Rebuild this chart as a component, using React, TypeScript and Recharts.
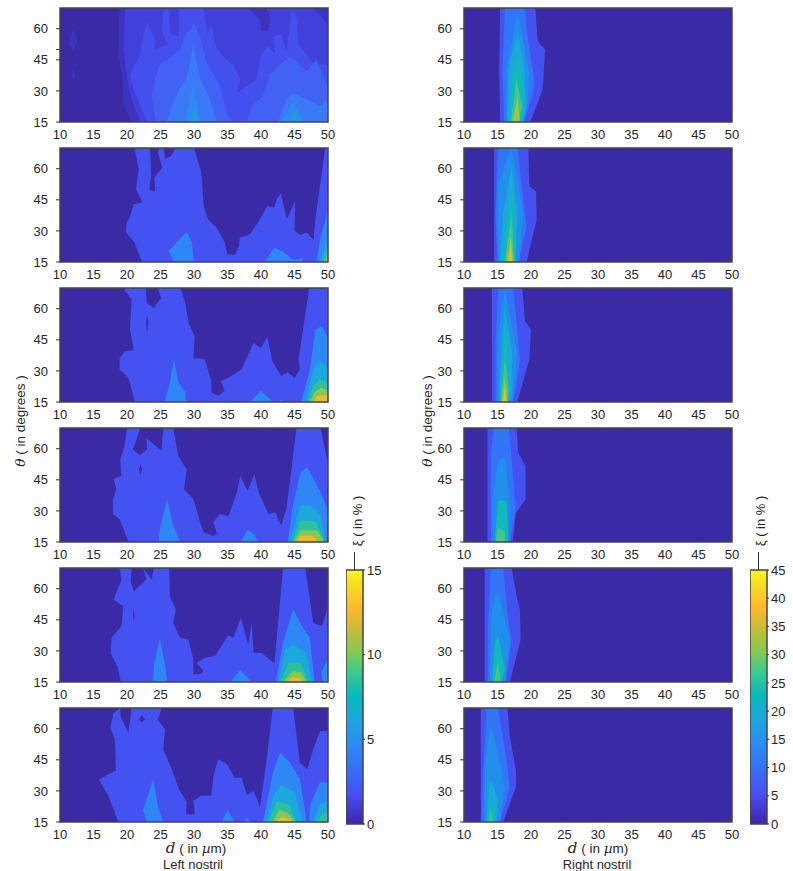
import { ComposedChart, Area, XAxis, YAxis, ReferenceArea, BarChart, Bar } from "recharts";

type Point = [number, number];
type Layer = [number, Point[]];

const dTicks = [10, 15, 20, 25, 30, 35, 40, 45, 50];
const thetaTicks = [15, 30, 45, 60];
const firstPanelTicks = [15, 30, 45, 50, 60];
const leftBarTicks = [0, 5, 10, 15];
const rightBarTicks = [0, 5, 10, 15, 20, 25, 30, 35, 40, 45];

const BASE = "#3B2AA5";
const topRamp = [BASE, "#3D33BE", "#4040DA", "#4450EE", "#4262F6", "#3A7AF6", "#2F8CF0", "#2598E8"];
const leftRamp = [BASE, "#4352F0", "#2F87F5", "#1CA8DB", "#2DC09A", "#87C852", "#EFB833"];
const rightRamp = [BASE, "#4352F0", "#3276F7", "#2190EB", "#1CA8DB", "#12B9B9", "#45C58B", "#9AC748", "#EFB833"];

// every contour is an outline of (d, theta), closed back to its first point
const left1: Layer[] = [
    [1, [[20.6, 15], [19.45, 24.3], [19.3, 37], [18.7, 46.7], [18.85, 70], [50, 70], [50, 15]]],
    [1, [[12, 60], [12.6, 54], [12, 49], [11.3, 53], [12, 60]]],
    [1, [[12, 41], [12.3, 38], [12, 35], [11.7, 38], [12, 41]]],
    [2, [[22, 15], [20.7, 26], [20, 35.6], [19.45, 50], [19.7, 70], [38.1, 70], [39.85, 64], [40, 59], [41.1, 59], [41.4, 65], [40.85, 70], [47.8, 70], [50, 62.2], [50, 15]]],
    [3, [[23, 15], [21.2, 29], [20.4, 37.9], [21.9, 46.7], [22.4, 55.5], [22.9, 63.5], [24.3, 54], [24, 50], [26.1, 52.3], [25.2, 59.5], [25.4, 69], [26.2, 70], [26.4, 58], [27.7, 56], [27.8, 70], [31.4, 70], [32, 58], [32.6, 62], [33.4, 50], [35.9, 42], [36.9, 35.6], [36.4, 29], [39.3, 35.6], [39.9, 46.7], [41, 51.5], [42.1, 48], [41.8, 56], [43, 57.5], [43.8, 49], [44.6, 69.3], [45.4, 64.5], [45.5, 53], [47.8, 43], [50, 42.7], [50, 15]]],
    [4, [[24.3, 15], [23.7, 27.5], [24.7, 42], [26.7, 46.7], [27.9, 50], [28.9, 58], [30.1, 62], [30.9, 56], [31.9, 43.5], [33.9, 32], [34.9, 19.5], [35.9, 15]]],
    [4, [[37.9, 15], [38.6, 22.7], [40.3, 27.5], [41.3, 38], [44.3, 46.7], [46.8, 39.5], [48.3, 45], [49.9, 32], [50, 15]]],
    [5, [[25.9, 15], [26.7, 22.7], [27.9, 31.5], [28.9, 36], [29.9, 52], [30.9, 35.6], [32.4, 26], [33.4, 15]]],
    [5, [[42.6, 15], [43.8, 26], [44.8, 29], [46.8, 26], [48.8, 22.7], [50, 26], [50, 15]]],
    [6, [[28.7, 15], [29.9, 33], [30.9, 15]]],
    [6, [[43, 15], [44.8, 24.3], [46.5, 15]]],
    [7, [[29.4, 15], [30, 24], [30.6, 15]]],
    [7, [[44.1, 15], [44.9, 21], [45.8, 15]]],
];

const left2: Layer[] = [
    [1, [[22.25, 15], [21.1, 24.4], [19.85, 29.2], [19.95, 34], [20.3, 35.6], [21, 42.9], [22.3, 43.7], [21.35, 50.2], [21.75, 59.8], [21.1, 70], [23.45, 70], [23.6, 56.6], [23.35, 50], [24.2, 49], [24.1, 55.8], [25.25, 60.6], [24.6, 68], [24.85, 70], [25.45, 70], [25.75, 64.7], [26.6, 66.3], [27.2, 70], [30, 70], [31.1, 58.2], [31.45, 42], [32.1, 35.6], [33.35, 31.6], [34.6, 24.4], [34.95, 18.7], [36.1, 18.4], [36.7, 22.7], [36.85, 26.8], [38.35, 28.4], [39.85, 35.6], [40.95, 42], [41.95, 41.3], [42.35, 45.3], [42.95, 48.2], [43.85, 35.6], [45.1, 44.5], [45, 30], [45.85, 28], [46.85, 29.2], [47.85, 25.6], [48.1, 35.6], [49.6, 70], [50, 70], [50, 15]]],
    [2, [[27, 15], [26.25, 20.3], [27.6, 25.2], [28.95, 29.5], [29.7, 24.4], [29.95, 15]]],
    [2, [[40.5, 15], [42, 22], [43.35, 20], [44.6, 16.3], [45.35, 16], [46.1, 17.3], [46.35, 15]]],
    [2, [[48.25, 15], [48.85, 26], [50, 40.5], [50, 15]]],
    [3, [[48.75, 15], [50, 26.8], [50, 15]]],
    [4, [[49.25, 15], [50, 22.7], [50, 15]]],
    [5, [[49.6, 15], [50, 19.5], [50, 15]]],
];

const left3: Layer[] = [
    [1, [[21.2, 15], [20.2, 26.7], [18.9, 30.7], [18.9, 36], [19.7, 39.5], [21, 40], [20.45, 50], [20.7, 64.4], [19.45, 70], [22.8, 70], [22.95, 62.8], [24, 60.4], [25.1, 65.2], [24.6, 70], [28, 70], [28.7, 62.8], [29.2, 53], [30.1, 46.7], [29.9, 36], [30.9, 36], [31.6, 35.5], [32.6, 25], [32.6, 19.5], [33.6, 18], [34.6, 20.4], [34, 25], [35.4, 27.2], [37.1, 30.7], [38.85, 43.5], [40, 41], [40.95, 46.4], [41.7, 34.7], [43, 27.5], [44, 29.4], [45, 26.4], [45.8, 30.7], [45.6, 35.5], [47.2, 70], [50, 70], [50, 15]]],
    [0, [[43, 47], [43.5, 42], [43, 37.5], [42.4, 41], [43, 47]]],
    [0, [[23, 57], [23.2, 53], [23, 48.5], [22.85, 53], [23, 57]]],
    [2, [[25.6, 15], [26.3, 22.7], [27, 35.5], [27.7, 24.4], [28.75, 19.5], [28.75, 15]]],
    [2, [[38.4, 15], [40, 20.4], [41.8, 15]]],
    [2, [[42.7, 15], [43, 16.3], [43.4, 15]]],
    [2, [[46, 15], [47.3, 30.7], [48.1, 50], [49.1, 51.5], [50, 46], [50, 15]]],
    [3, [[46.6, 15], [47.8, 30.7], [48.8, 34.7], [50, 32], [50, 15]]],
    [4, [[47, 15], [47.8, 22.7], [48.8, 26], [50, 24.3], [50, 15]]],
    [5, [[47.3, 15], [48, 20], [49, 22], [50, 20.4], [50, 15]]],
    [6, [[47.8, 15], [48.4, 18], [50, 18.2], [50, 15]]],
];

const left4: Layer[] = [
    [1, [[20.25, 15], [18.9, 26], [17.9, 28.5], [17.9, 35.7], [18.4, 40.5], [18, 45.6], [19.15, 46.9], [19, 54.9], [19.65, 61.3], [20, 70], [22, 70], [20.9, 59.6], [21.9, 57], [23, 59.6], [22.9, 65.2], [25.15, 58.9], [25.4, 70], [26.9, 70], [27.65, 56.5], [28.9, 50], [28.5, 40.5], [29.9, 35.7], [30.9, 24.6], [31.4, 19.8], [32.9, 17.9], [33.4, 19], [32.9, 24.6], [33.9, 28.5], [35.15, 27.4], [36.4, 39], [36.9, 47], [38, 39.7], [39, 47.7], [39.65, 39], [40.65, 31.7], [41.15, 28.5], [42.15, 29.4], [43, 23], [43.8, 31], [45.3, 70], [48.9, 70], [50, 52.5], [50, 15]]],
    [0, [[41, 46.5], [41.5, 40], [41, 35], [40.4, 40], [41, 46.5]]],
    [0, [[22, 52.5], [22.25, 50], [22, 47.5], [21.8, 50], [22, 52.5]]],
    [2, [[24.75, 15], [24.9, 21.4], [26, 35.7], [26.9, 23], [27.9, 15]]],
    [2, [[37, 15], [38, 21], [38.9, 19], [39.65, 15]]],
    [2, [[44, 15], [44.65, 31], [45.9, 48.5], [46.9, 51], [48.9, 39], [49.9, 31], [50, 15]]],
    [3, [[44.3, 15], [45.9, 32.5], [47.4, 33], [48.9, 27.8], [49.65, 15]]],
    [4, [[44.65, 15], [45.9, 25.4], [48.15, 25], [49.65, 15]]],
    [5, [[44.9, 15], [45.9, 20.6], [48.4, 20.6], [49.4, 15]]],
    [6, [[45.3, 15], [46, 18], [47.65, 18], [48.65, 15]]],
];

const left5: Layer[] = [
    [1, [[19.1, 15], [18.55, 22.7], [17.55, 29], [17.7, 36.3], [19.2, 42], [19.45, 51.5], [18, 54.7], [19.2, 64.4], [18.85, 70], [20.7, 70], [20.55, 63.6], [21, 58.8], [22.9, 64.4], [22.4, 70], [23.3, 66], [23.7, 64.4], [24, 70], [26.3, 70], [26.4, 56.3], [27.3, 50], [26.9, 43.5], [27.9, 36.3], [29.15, 35.5], [29.9, 26], [29.9, 18.7], [30.9, 18.7], [31.4, 20.3], [30.4, 24.3], [31.6, 26.7], [33.15, 27.5], [35.1, 37.5], [35.9, 36.3], [37, 46], [38.1, 33], [38.6, 43.5], [38.9, 29], [40.1, 29], [42, 24], [43.3, 70], [46.6, 70], [47.8, 43.5], [49.1, 42], [50, 51.5], [50, 15]]],
    [0, [[35, 46.5], [35.4, 44.5], [35.1, 42.5], [34.7, 44.5], [35, 46.5]]],
    [0, [[21, 50.5], [21.15, 47], [21, 44], [20.9, 47], [21, 50.5]]],
    [2, [[23.9, 15], [24, 22.7], [24.9, 36], [25.7, 22.7], [26, 15]]],
    [2, [[35.5, 15], [36.9, 20.8], [38.6, 15]]],
    [2, [[42.2, 15], [43.3, 34], [44.8, 50], [46.3, 41], [47.3, 36.3], [48, 15]]],
    [2, [[49.2, 15], [49, 19.5], [50, 26.7], [50, 15]]],
    [3, [[42.6, 15], [43.6, 30.7], [44.8, 33], [46.8, 29], [47.6, 15]]],
    [3, [[49.6, 15], [50, 18.7], [50, 15]]],
    [4, [[42.9, 15], [44.1, 24.3], [45.8, 24.3], [47.2, 15]]],
    [5, [[43.3, 15], [44.8, 20.3], [46.1, 19.5], [46.8, 15]]],
    [6, [[43.9, 15], [44.8, 17.4], [45.8, 16.8], [46.3, 15]]],
];

const left6: Layer[] = [
    [1, [[18.7, 15], [17.2, 27.8], [15.8, 35.4], [17.2, 38], [18.35, 39.7], [18.2, 54.9], [17.5, 60.5], [18, 67.6], [19, 70], [19.05, 66], [20.2, 58], [20.7, 70], [25.2, 70], [24.6, 64.4], [25.7, 59.6], [25.4, 50], [26.7, 40.5], [27.7, 31], [28.9, 24.6], [28.8, 18.7], [30.1, 18.7], [29.9, 25.4], [31, 27.5], [32.6, 27.8], [32.9, 37.3], [33.6, 45.3], [34.9, 43], [36.1, 36.2], [37.1, 36.5], [37.9, 28], [38.9, 30], [39.85, 22.2], [40.85, 45.3], [41.75, 70], [44.8, 70], [45.8, 43.7], [46.9, 40.5], [47.8, 50], [48.8, 58.8], [50, 59.2], [50, 15]]],
    [0, [[22.2, 66.5], [22.7, 64.5], [22.2, 63], [21.8, 64.5], [22.2, 66.5]]],
    [0, [[36, 46], [36.2, 44.5], [36, 43.5], [35.8, 44.5], [36, 46]]],
    [2, [[23, 15], [22.4, 20.6], [23.9, 36], [24.7, 21.4], [25.4, 15]]],
    [2, [[34.1, 15], [35, 20.6], [36.1, 15]]],
    [2, [[37.4, 15], [37.9, 17.4], [38.4, 15]]],
    [2, [[40.3, 15], [41.8, 39], [42.85, 48.5], [44.3, 43.7], [45.8, 35.7], [46.6, 19.8], [46.8, 15]]],
    [2, [[47.2, 15], [47.3, 23], [48.8, 34], [50, 34], [50, 15]]],
    [3, [[40.7, 15], [42.1, 29.4], [43.1, 33], [45.1, 29.4], [46.1, 15]]],
    [3, [[47.8, 15], [48.8, 23.8], [50, 25], [50, 15]]],
    [4, [[41.1, 15], [42.3, 24.6], [44.1, 23.8], [45.3, 15]]],
    [4, [[48.3, 15], [49.2, 19], [50, 19.5], [50, 15]]],
    [5, [[41.7, 15], [42.8, 21], [44.1, 19], [45.1, 15]]],
    [6, [[42.2, 15], [43.1, 17.4], [44.4, 16], [44.6, 15]]],
];

const right1: Layer[] = [
    [1, [[15.4, 15], [15.25, 40], [15.4, 70], [20.65, 70], [21, 54], [22.1, 50], [21.75, 30.7], [19.9, 15]]],
    [2, [[16, 15], [15.75, 40], [16.1, 70], [19, 70], [19.75, 50], [20.5, 35.5], [20.25, 28], [19, 15]]],
    [3, [[16.35, 15], [16.35, 40], [18, 67.6], [19.75, 38.7], [19.5, 25], [18.9, 15]]],
    [4, [[16.5, 15], [16.75, 43.5], [18, 58], [19, 42], [19.25, 21], [18.75, 15]]],
    [5, [[16.75, 15], [17.25, 37], [18, 47.5], [19, 29], [18.5, 15]]],
    [6, [[17, 15], [17.85, 36], [18.65, 22.7], [18.25, 15]]],
    [7, [[17.25, 15], [18, 27], [18.35, 15]]],
];

const right2: Layer[] = [
    [1, [[14.5, 15], [14.5, 70], [19.6, 70], [19.75, 51.5], [20.75, 49], [20.85, 35.5], [19.35, 15]]],
    [2, [[15, 15], [14.7, 38], [15.1, 70], [18, 70], [18.85, 45], [19.35, 32], [18.1, 15]]],
    [3, [[15.1, 15], [15.1, 53], [17.1, 70], [18.85, 38.7], [18.25, 15]]],
    [4, [[15.35, 15], [15.85, 38.7], [17.1, 61], [17.95, 38.7], [17.75, 15]]],
    [5, [[15.75, 15], [16.45, 35.5], [17.1, 50], [17.6, 29], [17.6, 15]]],
    [6, [[16.1, 15], [17.1, 38.7], [17.35, 22.7], [17.45, 15]]],
    [7, [[16.35, 15], [17, 27.5], [17.35, 15]]],
    [8, [[16.65, 15], [17, 22], [17.2, 15]]],
];

const right3: Layer[] = [
    [1, [[14.15, 15], [14.15, 70], [18.7, 70], [19.1, 54], [20, 50], [19.75, 35.5], [17.95, 15]]],
    [2, [[14.7, 15], [14.7, 42], [15.1, 70], [17.35, 70], [17.95, 50], [18.35, 34], [17.35, 15]]],
    [3, [[15, 15], [15.1, 48], [16.1, 69.5], [17.95, 38.7], [17.2, 15]]],
    [4, [[15.2, 15], [15.6, 42], [16.1, 60.5], [17.2, 38.7], [17.1, 19.5], [16.75, 15]]],
    [5, [[15.35, 15], [16.1, 50], [16.6, 31], [16.6, 15]]],
    [6, [[15.45, 15], [16.1, 36.5], [16.7, 21], [16.5, 15]]],
    [7, [[15.65, 15], [16.1, 26.7], [16.45, 15]]],
    [8, [[15.8, 15], [16.1, 22], [16.4, 15]]],
];

const right4: Layer[] = [
    [1, [[13.5, 15], [13.5, 70], [17.85, 70], [18.1, 58], [19.2, 51.5], [19.2, 35.5], [17.75, 29], [17.25, 15]]],
    [2, [[14, 15], [14, 58], [14.45, 70], [16.7, 70], [17.75, 31], [16.85, 15]]],
    [3, [[14.35, 15], [14.25, 35.5], [15.1, 54], [16.1, 56], [16.85, 32], [16.7, 15]]],
    [5, [[14.6, 15], [15.1, 35], [16.35, 35], [16.6, 15]]],
    [6, [[14.7, 15], [15.1, 22], [16.1, 20], [16.1, 15]]],
];

const right5: Layer[] = [
    [1, [[13.1, 15], [13.1, 70], [17.1, 70], [17.95, 55], [18.35, 50], [18.45, 35.5], [16.85, 15]]],
    [2, [[13.6, 15], [13.6, 42], [14, 70], [15.85, 70], [16.6, 45], [17.1, 35.5], [16.25, 15]]],
    [3, [[13.85, 15], [14.1, 50], [15.1, 59], [16.1, 45], [16.85, 36], [16.1, 15]]],
    [5, [[14.2, 15], [14.6, 34], [15.1, 37], [16.1, 21], [15.6, 15]]],
    [6, [[14.5, 15], [15.1, 25], [15.45, 15]]],
];

const right6: Layer[] = [
    [1, [[12.5, 15], [12.5, 70], [16.5, 70], [16.85, 56], [17.75, 40], [17.75, 32], [15.85, 15]]],
    [2, [[12.6, 15], [12.85, 37], [13.35, 70], [15.1, 70], [16.35, 45], [16.85, 32], [15.35, 15]]],
    [3, [[13.1, 15], [13.1, 42], [14, 61], [15.1, 47.5], [16.1, 31], [15.25, 15]]],
    [4, [[13.35, 15], [13.85, 35.5], [14.1, 34.5], [15.1, 26], [14.85, 15]]],
    [5, [[13.5, 15], [14, 26], [14.6, 19.5], [14.45, 15]]],
    [6, [[13.7, 15], [14, 21], [14.25, 15]]],
];

const plotOutline: Point[] = [[10, 15], [10, 70], [50, 70], [50, 15]];

const leftColumn = [left1, left2, left3, left4, left5, left6];
const rightColumn = [right1, right2, right3, right4, right5, right6];
const panelTops = [8, 148, 288, 428, 568, 708];

const tickStyle = { fontFamily: "Liberation Sans", fontSize: 13, fill: "#262626" };

const Panel = ({ layers, ramp, left, top, yTicks }: { layers: Layer[]; ramp: string[]; left: number; top: number; yTicks: number[] }) => {
    const all: Layer[] = [[0, plotOutline], ...layers];
    return (
        <div style={{ position: "absolute", left: left - 34, top: top - 4 }}>
            <ComposedChart width={322} height={142} margin={{ top: 4, right: 20, bottom: 0, left: 0 }}>
                <XAxis
                    dataKey="d"
                    type="number"
                    domain={[10, 50]}
                    ticks={dTicks}
                    interval={0}
                    axisLine={false}
                    tickLine={false}
                    tick={tickStyle}
                    tickMargin={2}
                    height={24}
                    allowDataOverflow
                />
                <YAxis
                    type="number"
                    domain={[15, 70]}
                    ticks={yTicks}
                    interval={0}
                    axisLine={false}
                    tick={tickStyle}
                    tickFormatter={(v: number) => (thetaTicks.includes(v) ? String(v) : "")}
                    tickSize={4}
                    tickMargin={8}
                    tickLine={{ stroke: "#333" }}
                    width={34}
                    allowDataOverflow
                />
                {all.map(([level, outline], i) => (
                    <Area
                        key={i}
                        data={outline.map(([d, theta]) => ({ d, theta }))}
                        dataKey="theta"
                        type="linear"
                        baseValue={outline[0][1]}
                        fill={ramp[level]}
                        fillOpacity={1}
                        stroke="none"
                        dot={false}
                        activeDot={false}
                        isAnimationActive={false}
                    />
                ))}
                <ReferenceArea x1={10} x2={50} y1={15} y2={70} fill="none" stroke="#444" strokeWidth={1.5} ifOverflow="visible" />
            </ComposedChart>
        </div>
    );
};

const ColorBar = ({ id, ticks, left }: { id: string; ticks: number[]; left: number }) => {
    const max = ticks[ticks.length - 1];
    return (
        <div style={{ position: "absolute", left, top: 560 }}>
            <BarChart width={47} height={274} data={[{ name: "xi", value: max }]} margin={{ top: 10, right: 0, bottom: 10, left: 0 }} barCategoryGap={0}>
                <defs>
                    <linearGradient id={id} x1="0" y1="1" x2="0" y2="0">
                        <stop offset="0" stopColor="#3E26A8" />
                        <stop offset="0.12" stopColor="#4650F5" />
                        <stop offset="0.3" stopColor="#2F87F5" />
                        <stop offset="0.42" stopColor="#1CA8DB" />
                        <stop offset="0.5" stopColor="#06B9BD" />
                        <stop offset="0.6" stopColor="#3EC88E" />
                        <stop offset="0.68" stopColor="#87C852" />
                        <stop offset="0.77" stopColor="#C8BD3A" />
                        <stop offset="0.85" stopColor="#FEB72D" />
                        <stop offset="0.95" stopColor="#F5E024" />
                        <stop offset="1" stopColor="#F9FB15" />
                    </linearGradient>
                </defs>
                <XAxis dataKey="name" hide />
                <YAxis
                    orientation="right"
                    type="number"
                    domain={[0, max]}
                    ticks={ticks}
                    interval={0}
                    axisLine={false}
                    tick={tickStyle}
                    tickSize={2}
                    tickMargin={2}
                    tickLine={{ stroke: "#333" }}
                    width={30}
                />
                <Bar dataKey="value" fill={`url(#${id})`} stroke="#444" strokeWidth={1.5} isAnimationActive={false} />
            </BarChart>
        </div>
    );
};

const textBase = { position: "absolute", fontFamily: "Liberation Sans", color: "#262626", whiteSpace: "nowrap", lineHeight: 1 } as const;

const Rotated = ({ x, y, children, size = 13 }: { x: number; y: number; children: React.ReactNode; size?: number }) => (
    <div style={{ ...textBase, left: x, top: y, fontSize: size, transform: "translate(-50%, -50%) rotate(-90deg)" }}>{children}</div>
);

const Centered = ({ x, y, children, size = 13 }: { x: number; y: number; children: React.ReactNode; size?: number }) => (
    <div style={{ ...textBase, left: x, top: y, fontSize: size, transform: "translate(-50%, -50%)" }}>{children}</div>
);

const mathStyle = { fontFamily: "DejaVu Serif", fontStyle: "italic", lineHeight: 1 } as const;

const XTitle = ({ x }: { x: number }) => (
    <Centered x={x} y={848} size={13.5}>
        <span style={{ ...mathStyle, fontSize: 15 }}>d</span> ( in <span style={mathStyle}>µ</span>m)
    </Centered>
);

const YTitle = ({ x }: { x: number }) => (
    <Rotated x={x} y={421} size={13.5}>
        <span style={mathStyle}>θ</span> ( in degrees )
    </Rotated>
);

export default function App() {
    return (
        <div style={{ position: "absolute", left: 0, top: 0, width: 793, height: 871, overflow: "hidden", background: "#fff" }}>
            {leftColumn.map((layers, i) => (
                <Panel key={i} layers={layers} ramp={i === 0 ? topRamp : leftRamp} left={60} top={panelTops[i]} yTicks={i === 0 ? firstPanelTicks : thetaTicks} />
            ))}
            {rightColumn.map((layers, i) => (
                <Panel key={i} layers={layers} ramp={rightRamp} left={464} top={panelTops[i]} yTicks={thetaTicks} />
            ))}
            <ColorBar id="leftBar" ticks={leftBarTicks} left={346} />
            <ColorBar id="rightBar" ticks={rightBarTicks} left={750} />
            <YTitle x={21} />
            <YTitle x={428} />
            <Rotated x={357} y={521}>ξ ( in % )</Rotated>
            <Rotated x={760} y={521}>ξ ( in % )</Rotated>
            <div style={{ position: "absolute", left: 353.5, top: 552, width: 1.5, height: 18, background: "#333" }} />
            <div style={{ position: "absolute", left: 757.5, top: 552, width: 1.5, height: 18, background: "#333" }} />
            <XTitle x={196} />
            <XTitle x={598} />
            <Centered x={193} y={864}>Left nostril</Centered>
            <Centered x={597} y={864}>Right nostril</Centered>
        </div>
    );
}
